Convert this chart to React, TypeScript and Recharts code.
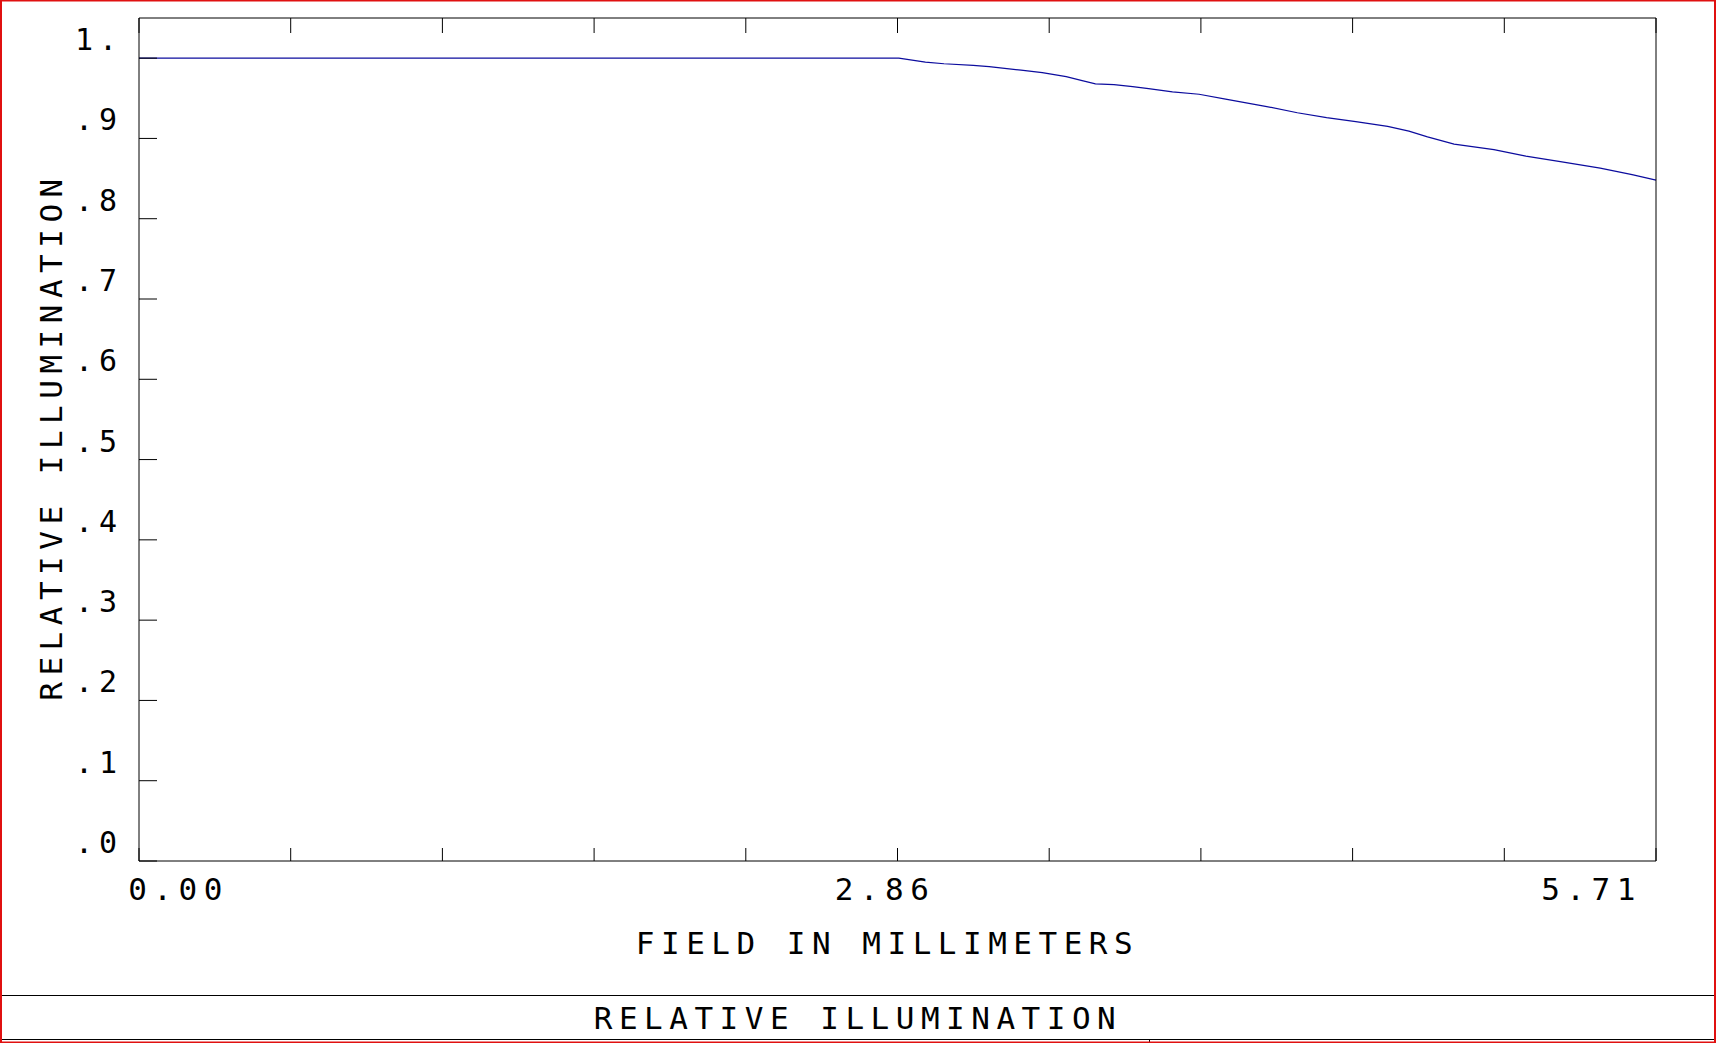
import React from 'react'
import { LineChart, Line, XAxis, YAxis } from 'recharts'

document.body.style.margin = '0'

// field positions (mm) and relative illumination
const fieldMm = [
  0, 2.86, 2.96, 3.03, 3.14, 3.2, 3.32, 3.4, 3.49, 3.55, 3.6, 3.67, 3.74, 3.8, 3.89, 3.99,
  4.09, 4.24, 4.36, 4.47, 4.58, 4.7, 4.78, 4.85, 4.95, 5.1, 5.22, 5.35, 5.5, 5.62, 5.71,
]
const relIllum = [
  1.0, 1.0, 0.995, 0.993, 0.991, 0.9895, 0.985, 0.982, 0.977, 0.972, 0.968, 0.967, 0.9646, 0.962,
  0.958, 0.955, 0.949, 0.94, 0.932, 0.926, 0.921, 0.915, 0.909, 0.902, 0.893, 0.886, 0.878, 0.871,
  0.863, 0.855, 0.848,
]

const xTicks = [0, 0.571, 1.142, 1.713, 2.284, 2.855, 3.426, 3.997, 4.568, 5.139, 5.71]
const xTickLabels = ['0.00', '', '', '', '', '2.86', '', '', '', '', '5.71']
const yTicks = [0, 0.1, 0.2, 0.3, 0.4, 0.5, 0.6, 0.7, 0.8, 0.9, 1.0]
const yTickLabels = ['.0', '.1', '.2', '.3', '.4', '.5', '.6', '.7', '.8', '.9', '1.']

const data = fieldMm.map((f, i) => ({ field: f, ri: relIllum[i] }))

const FONT = '"DejaVu Sans Mono", "Liberation Mono", monospace'
const txt = { fontFamily: FONT, fontSize: 31, letterSpacing: 6.5, fill: '#000' }

const BottomTick = (p: any) => {
  const label = xTickLabels[p.index]
  return (
    <g>
      <line x1={p.x} y1={p.y} x2={p.x} y2={p.y - 13} stroke="#000" />
      {label && (
        <text x={p.x - 10.8 - p.index * 10.4} y={p.y + 39} textAnchor="start" style={txt}>
          {label}
        </text>
      )}
    </g>
  )
}

const TopTick = (p: any) => <line x1={p.x} y1={p.y} x2={p.x} y2={p.y + 15} stroke="#000" />

const LeftTick = (p: any) => (
  <g>
    <line x1={p.x} y1={p.y} x2={p.x + 18} y2={p.y} stroke="#000" />
    <text x={p.x - 64} y={p.y - 8} textAnchor="start" style={{ ...txt, fontSize: 30, letterSpacing: 6 }}>
      {yTickLabels[p.index]}
    </text>
  </g>
)

const RightTick = (p: any) => <line x1={p.x} y1={p.y} x2={p.x - 17.5} y2={p.y} stroke="#000" />

const XTitle = (p: any) => {
  const vb = p.viewBox
  return (
    <text x={vb.x + vb.width / 2 - 10} y={vb.y + 93} textAnchor="middle" style={txt}>
      FIELD IN MILLIMETERS
    </text>
  )
}

const YTitle = (p: any) => {
  const vb = p.viewBox
  const cy = vb.y + vb.height / 2 - 3
  return (
    <text transform={`translate(62,${cy}) rotate(-90)`} textAnchor="middle" style={txt}>
      RELATIVE ILLUMINATION
    </text>
  )
}

export default function App() {
  return (
    <div style={{ position: 'relative', width: 1716, height: 1043, background: '#fff' }}>
      <LineChart width={1716} height={1043} data={data} margin={{ top: 0, right: 0, bottom: 0, left: 0 }}>
        <XAxis
          dataKey="field"
          type="number"
          domain={[0, 5.71]}
          ticks={xTicks}
          interval={0}
          height={182}
          tickSize={0}
          tickMargin={0}
          tickLine={false}
          axisLine={{ stroke: '#000', strokeWidth: 1 }}
          tick={<BottomTick />}
          label={<XTitle />}
        />
        <XAxis
          xAxisId="top"
          orientation="top"
          dataKey="field"
          type="number"
          domain={[0, 5.71]}
          ticks={xTicks}
          interval={0}
          height={18}
          tickSize={0}
          tickMargin={0}
          tickLine={false}
          axisLine={{ stroke: '#000', strokeWidth: 1 }}
          tick={<TopTick />}
        />
        <YAxis
          type="number"
          domain={[0, 1.05]}
          ticks={yTicks}
          interval={0}
          width={139}
          tickSize={0}
          tickMargin={0}
          tickLine={false}
          axisLine={{ stroke: '#000', strokeWidth: 1 }}
          tick={<LeftTick />}
          label={<YTitle />}
        />
        <YAxis
          yAxisId="right"
          orientation="right"
          type="number"
          domain={[0, 1.05]}
          ticks={yTicks}
          interval={0}
          width={60}
          tickSize={0}
          tickMargin={0}
          tickLine={false}
          axisLine={{ stroke: '#000', strokeWidth: 1 }}
          tick={<RightTick />}
        />
        <Line
          type="linear"
          dataKey="ri"
          stroke="#0c0c9e"
          strokeWidth={1.2}
          dot={false}
          isAnimationActive={false}
        />
      </LineChart>
      <svg
        width={1716}
        height={1043}
        style={{ position: 'absolute', left: 0, top: 0, pointerEvents: 'none' }}
      >
        <line x1={0} y1={995.5} x2={1716} y2={995.5} stroke="#000" strokeWidth={1.2} />
        <line x1={0} y1={1039.5} x2={1716} y2={1039.5} stroke="#000" strokeWidth={1.2} />
        <line x1={1149.5} y1={1039.5} x2={1149.5} y2={1043} stroke="#000" />
        <text x={858} y={1029} textAnchor="middle" style={txt}>
          RELATIVE ILLUMINATION
        </text>
        <rect x={1} y={0.5} width={1714} height={1042} fill="none" stroke="#e01010" strokeWidth={2} />
      </svg>
    </div>
  )
}
